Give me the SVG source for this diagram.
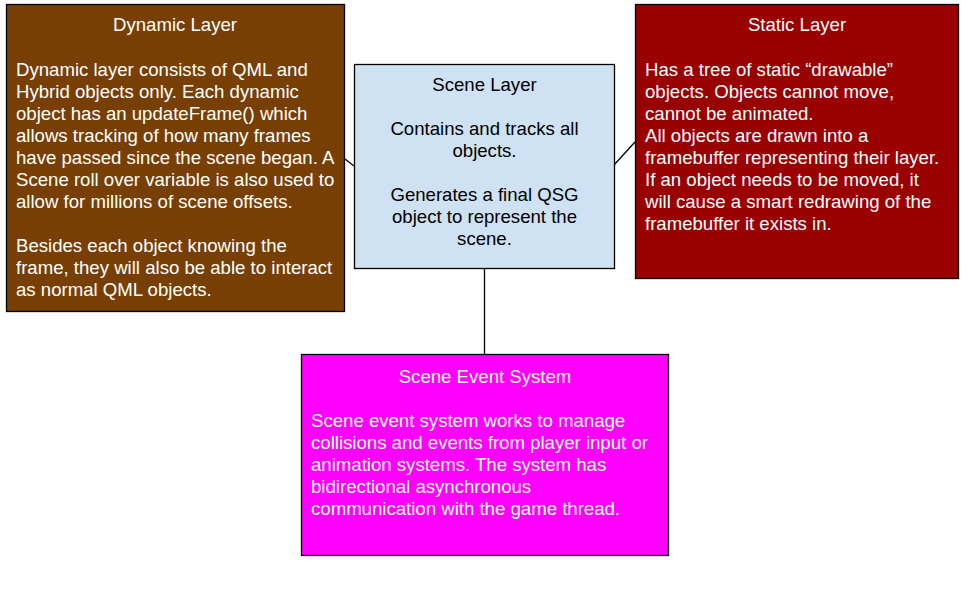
<svg xmlns="http://www.w3.org/2000/svg" width="971" height="602" viewBox="0 0 971 602">
<style>
.box{stroke:#000;stroke-width:1.3}
text{font-family:"Liberation Sans",Arial,sans-serif;font-size:18.6px}
.w{fill:#fff}
.k{fill:#000}
.c{text-anchor:middle}
.conn line{stroke:#000;stroke-width:1.3}
</style>
<rect width="971" height="602" fill="#fff"/>
<g class="conn">
<line x1="345" y1="159" x2="354" y2="166"/>
<line x1="614" y1="165" x2="635" y2="142"/>
<line x1="484.5" y1="268" x2="484.5" y2="354"/>
</g>
<g id="dynamic">
<rect class="box" x="6.5" y="4.5" width="338" height="307" fill="#783f04"/>
<text class="w c" x="175" y="31">Dynamic Layer</text>
<text class="w" x="16" y="76">Dynamic layer consists of QML and</text>
<text class="w" x="16" y="98">Hybrid objects only. Each dynamic</text>
<text class="w" x="16" y="120">object has an updateFrame() which</text>
<text class="w" x="16" y="142">allows tracking of how many frames</text>
<text class="w" x="16" y="164">have passed since the scene began. A</text>
<text class="w" x="16" y="186">Scene roll over variable is also used to</text>
<text class="w" x="16" y="208">allow for millions of scene offsets.</text>
<text class="w" x="16" y="252">Besides each object knowing the</text>
<text class="w" x="16" y="274">frame, they will also be able to interact</text>
<text class="w" x="16" y="296">as normal QML objects.</text>
</g>
<g id="scene">
<rect class="box" x="354.5" y="64.5" width="260" height="204" fill="#cfe2f3"/>
<text class="k c" x="484.5" y="91">Scene Layer</text>
<text class="k c" x="484.5" y="135">Contains and tracks all</text>
<text class="k c" x="484.5" y="157">objects.</text>
<text class="k c" x="484.5" y="201">Generates a final QSG</text>
<text class="k c" x="484.5" y="223">object to represent the</text>
<text class="k c" x="484.5" y="245">scene.</text>
</g>
<g id="static">
<rect class="box" x="635.5" y="4.5" width="323" height="274" fill="#990000"/>
<text class="w c" x="797" y="31">Static Layer</text>
<text class="w" x="645" y="76">Has a tree of static “drawable”</text>
<text class="w" x="645" y="98">objects. Objects cannot move,</text>
<text class="w" x="645" y="120">cannot be animated.</text>
<text class="w" x="645" y="142">All objects are drawn into a</text>
<text class="w" x="645" y="164">framebuffer representing their layer.</text>
<text class="w" x="645" y="186">If an object needs to be moved, it</text>
<text class="w" x="645" y="208">will cause a smart redrawing of the</text>
<text class="w" x="645" y="230">framebuffer it exists in.</text>
</g>
<g id="event">
<rect class="box" x="301.5" y="354.5" width="367" height="201" fill="#ff00ff"/>
<text class="w c" x="485" y="383">Scene Event System</text>
<text class="w" x="311" y="427">Scene event system works to manage</text>
<text class="w" x="311" y="449">collisions and events from player input or</text>
<text class="w" x="311" y="471">animation systems. The system has</text>
<text class="w" x="311" y="493">bidirectional asynchronous</text>
<text class="w" x="311" y="515">communication with the game thread.</text>
</g>
</svg>
